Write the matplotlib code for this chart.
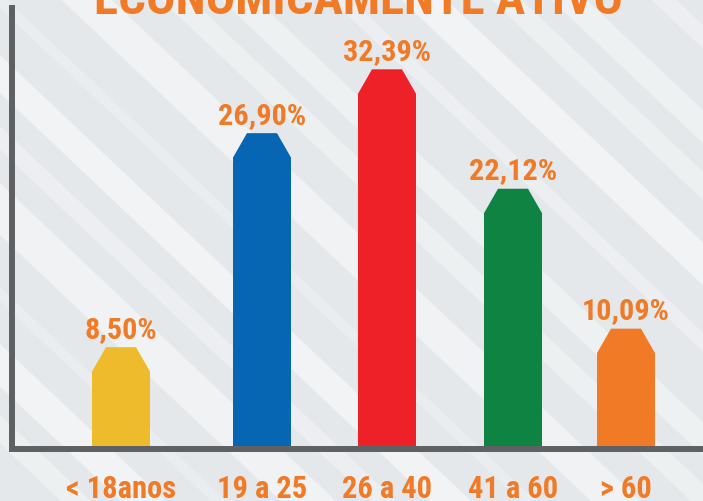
import numpy as np
import matplotlib
matplotlib.use('Agg')
import matplotlib.pyplot as plt
from matplotlib.patches import Polygon
from matplotlib import font_manager

categories = ['< 18anos', '19 a 25', '26 a 40', '41 a 60', '> 60']
values = [8.50, 26.90, 32.39, 22.12, 10.09]
colors = ['#EEBB2C', '#0766B3', '#EE2129', '#0F8442', '#F07A26']
title = 'ECONOMICAMENTE ATIVO'

orange = '#F07A26'
axis_grey = '#5F6062'

# pick a narrow bold face if one is installed
installed = {f.name for f in font_manager.fontManager.ttflist}
narrow = [n for n in ['Liberation Sans Narrow', 'Roboto Condensed', 'Open Sans Condensed',
                      'DejaVu Sans Condensed'] if n in installed]
plt.rcParams['font.family'] = narrow[:1] + ['DejaVu Sans']
plt.rcParams['font.stretch'] = 'condensed'

# layout (pixel-like x units, as on the poster)
xpos = [121, 262, 387, 513, 626]
bar_w = 58
cut_x = 14
cut_y = 2.1

fig = plt.figure(figsize=(7.03, 5.02), dpi=100)
fig.patch.set_facecolor('#E4E8EB')

# background layer with soft diagonal light stripes
bg = fig.add_axes([0, 0, 1, 1], zorder=-1)
bg.set_xlim(0, 703)
bg.set_ylim(502, 0)
bg.axis('off')
stripe_offsets = [-480, -420, -330, -260, -170, -110, -20, 50, 150, 210, 320, 390, 480, 540, 640]
stripe_widths = [30, 45, 15, 55, 25, 40, 15, 50, 30, 35, 20, 45, 30, 35, 25]
stripe_alpha = [0.35, 0.5, 0.25, 0.45, 0.3, 0.5, 0.25, 0.45, 0.35, 0.4, 0.3, 0.5, 0.35, 0.4, 0.3]
for off, w, a in zip(stripe_offsets, stripe_widths, stripe_alpha):
    bg.add_patch(Polygon([(off, -10), (off + w, -10), (off + w + 560, 520), (off + 560, 520)],
                         closed=True, facecolor='white', alpha=a, edgecolor='none'))

px_per_unit = 11.63
ax_left, ax_bottom = 12 / 703, 52 / 502
ax_top = 493 / 502
ax = fig.add_axes([ax_left, ax_bottom, 1 - ax_left, ax_top - ax_bottom])
ax.patch.set_alpha(0)
ax.set_xlim(12, 703)
y0 = -3 / px_per_unit
ax.set_ylim(y0, y0 + (493 - 52) / px_per_unit)

renderer = fig.canvas.get_renderer()


def fit_size(text, target_px, size):
    t = fig.text(0, 0, text, fontsize=size, fontweight='bold')
    w = t.get_window_extent(renderer).width
    t.remove()
    return size * target_px / w


lab_size = min(22, fit_size('32,39%', 88, 22))
for x, v, c in zip(xpos, values, colors):
    l, r = x - bar_w / 2, x + bar_w / 2
    pts = [(l, 0), (l, v - cut_y), (l + cut_x, v), (r - cut_x, v), (r, v - cut_y), (r, 0)]
    ax.add_patch(Polygon(pts, closed=True, facecolor=c, edgecolor='none', zorder=1))
    ax.annotate(f'{v:.2f}'.replace('.', ',') + '%', (x, v), xytext=(0, 7.5),
                textcoords='offset points', ha='center', va='baseline',
                fontsize=lab_size, fontweight='bold', color=orange)

for s in ['top', 'right']:
    ax.spines[s].set_visible(False)
for s in ['left', 'bottom']:
    ax.spines[s].set_color(axis_grey)
    ax.spines[s].set_linewidth(4.3)
    ax.spines[s].set_capstyle('projecting')

tick_size = min(22, fit_size('< 18anos', 114, 22))
ax.set_yticks([])
ax.set_xticks(xpos)
ax.set_xticklabels(categories, fontsize=tick_size, fontweight='bold', color=orange)
ax.tick_params(axis='x', length=0, pad=17)

title_size = fit_size(title, 529, 36)
fig.text(0.51, 1 - 13.5 / 502, title, ha='center', va='baseline',
         fontsize=title_size, fontweight='bold', color=orange)

fig.savefig('out.png', dpi=100, facecolor=fig.get_facecolor())
